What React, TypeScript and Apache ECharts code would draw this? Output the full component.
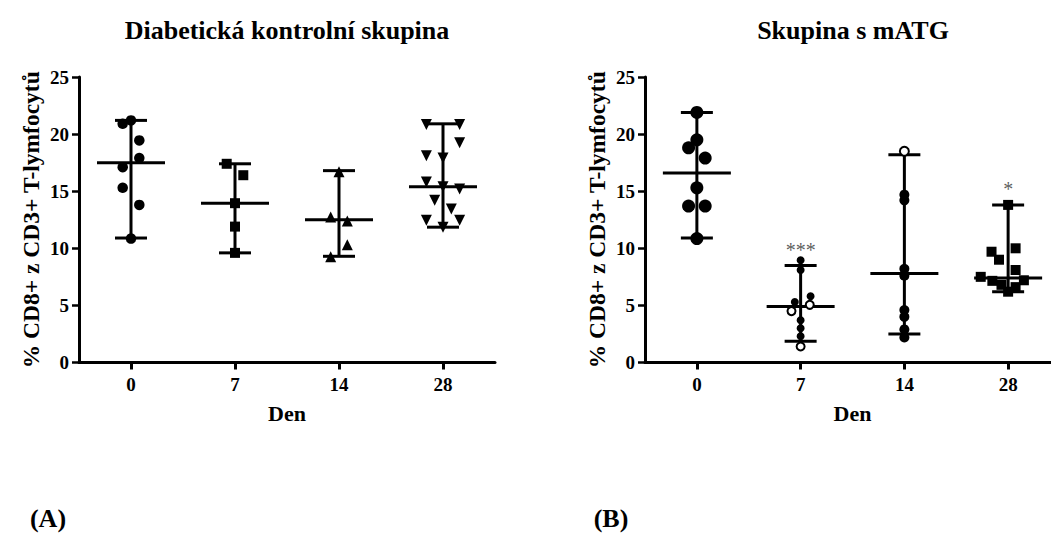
import React, { useEffect, useRef } from 'react';
import * as echarts from 'echarts';

// ---------- categories ----------
const days = ['0', '7', '14', '28'];

// ---------- Panel A: Diabetická kontrolní skupina ----------
const ctrlDay0 = [21.2, 20.9, 19.45, 17.9, 17.1, 15.3, 13.8, 10.85];
const ctrlDay0Lane = [0, -1, 1, 1, -1, -1, 1, 0];
const ctrlDay7 = [17.4, 16.4, 13.95, 11.9, 9.6];
const ctrlDay7Lane = [-1, 1, 0, 0, 0];
const ctrlDay14 = [16.7, 12.75, 12.4, 10.3, 9.25];
const ctrlDay14Lane = [0, -1, 1, 1, -1];
const ctrlDay28 = [20.85, 20.85, 19.25, 18.1, 17.9, 15.8, 15.4, 15.2, 14.2, 13.45, 12.45, 12.45, 11.85];
const ctrlDay28Lane = [-2, 2, 2, -2, 0, -2, 0, 2, -1, 1, -2, 2, 0];
const ctrlMedian = [17.5, 13.95, 12.5, 15.4];
const ctrlLow = [10.9, 9.6, 9.3, 11.85];
const ctrlHigh = [21.2, 17.4, 16.8, 20.9];

// ---------- Panel B: Skupina s mATG ----------
const atgDay0 = [21.9, 19.5, 18.8, 17.9, 15.3, 13.7, 13.7, 10.85];
const atgDay0Lane = [0, 0, -1, 1, 0, -1, 1, 0];
const atgDay7 = [8.95, 8.1, 5.8, 5.3, 3.7, 3.0, 2.3];
const atgDay7Lane = [0, 0, 1.2, -0.7, 0, 0, 0];
const atgDay7Open = [5.05, 4.5, 1.4];
const atgDay7OpenLane = [1.1, -1.1, 0];
const atgDay14 = [14.7, 14.2, 8.2, 7.6, 4.6, 4.0, 2.9, 2.2];
const atgDay14Open = [18.5];
const atgDay28 = [13.8, 10.0, 9.7, 9.0, 8.1, 7.5, 7.15, 7.2, 6.8, 6.6, 6.2];
const atgDay28Lane = [0, 0.9, -2, -1.1, 0.9, -3.3, -1.9, 1.9, -0.8, 0.9, 0];
const atgMedian = [16.6, 4.9, 7.8, 7.4];
const atgLow = [10.9, 1.85, 2.5, 6.2];
const atgHigh = [21.9, 8.5, 18.2, 13.8];
const atgSignif = ['', '***', '', '*'];

// ---------- texts ----------
const titleA = 'Diabetická kontrolní skupina';
const titleB = 'Skupina s mATG';
const yName = '% CD8+ z CD3+ T-lymfocytů';
const xName = 'Den';

const FONT = '"Liberation Serif", "Times New Roman", serif';
const LANE_PX = 8.3;
const CAP = 16;
const MED = 34;

function pts(day: number, vals: number[], lanes?: number[]) {
  return vals.map((v, i) => ({
    value: [day, v],
    symbolOffset: [((lanes && lanes[i]) || 0) * LANE_PX, 0],
  }));
}

const errRender = (_params: any, api: any) => {
  const x = api.value(0);
  const c = api.coord([x, api.value(1)]);
  const lo = api.coord([x, api.value(2)]);
  const hi = api.coord([x, api.value(3)]);
  const st = { stroke: '#000', lineWidth: 3, fill: null };
  const line = (x1: number, y1: number, x2: number, y2: number) => ({
    type: 'line',
    shape: { x1, y1, x2, y2 },
    style: st,
  });
  return {
    type: 'group',
    children: [
      line(lo[0], lo[1], hi[0], hi[1]),
      line(lo[0] - CAP, lo[1], lo[0] + CAP, lo[1]),
      line(hi[0] - CAP, hi[1], hi[0] + CAP, hi[1]),
      line(c[0] - MED, c[1], c[0] + MED, c[1]),
    ],
  };
};

const boldText = (size: number) => ({
  color: '#000',
  fontFamily: FONT,
  fontWeight: 'bold' as const,
  fontSize: size,
});

const mkX = (gridIndex: number) => ({
  type: 'category',
  gridIndex,
  data: days,
  boundaryGap: true,
  axisLine: { show: true, lineStyle: { color: '#000', width: 3 } },
  axisTick: { show: true, alignWithLabel: true, length: 7, lineStyle: { color: '#000', width: 3 } },
  axisLabel: { ...boldText(19), margin: 12 },
  splitLine: { show: false },
  name: xName,
  nameLocation: 'middle',
  nameGap: 40,
  nameTextStyle: boldText(22),
});

const mkY = (gridIndex: number) => ({
  type: 'value',
  gridIndex,
  min: 0,
  max: 25,
  interval: 5,
  axisLine: { show: true, lineStyle: { color: '#000', width: 3 } },
  axisTick: { show: true, length: 7, lineStyle: { color: '#000', width: 2.5 } },
  axisLabel: { ...boldText(19), margin: 10 },
  splitLine: { show: false },
  name: yName,
  nameLocation: 'middle',
  nameGap: 36,
  nameRotate: 90,
  nameTextStyle: boldText(23.5),
});

const scatter = (idx: number, data: any[], symbol: string, size: number, extra: any = {}) => ({
  type: 'scatter',
  xAxisIndex: idx,
  yAxisIndex: idx,
  data,
  symbol,
  symbolSize: size,
  itemStyle: { color: '#000', opacity: 1 },
  z: 3,
  ...extra,
});

const errSeries = (idx: number, med: number[], lo: number[], hi: number[]) => ({
  type: 'custom',
  xAxisIndex: idx,
  yAxisIndex: idx,
  renderItem: errRender,
  data: days.map((_d, i) => [i, med[i], lo[i], hi[i]]),
  z: 2,
});

export default function App() {
  const ref = useRef<HTMLDivElement>(null);
  useEffect(() => {
    if (!ref.current) return;
    const chart = echarts.init(ref.current, null, { renderer: 'svg' });
    const openStyle = { color: '#fff', borderColor: '#000', borderWidth: 2, opacity: 1 };
    chart.setOption({
      animation: false,
      backgroundColor: '#fff',
      grid: [
        { left: 79, top: 77, width: 416, height: 285.5, outerBoundsMode: 'none', containLabel: false },
        { left: 645, top: 77, width: 415, height: 285.5, outerBoundsMode: 'none', containLabel: false },
      ],
      xAxis: [mkX(0), mkX(1)],
      yAxis: [mkY(0), mkY(1)],
      graphic: [
        { type: 'text', x: 287, y: 30, style: { text: titleA, font: `bold 26px ${FONT}`, fill: '#000', textAlign: 'center', textVerticalAlign: 'middle' } },
        { type: 'text', x: 853, y: 30, style: { text: titleB, font: `bold 26px ${FONT}`, fill: '#000', textAlign: 'center', textVerticalAlign: 'middle' } },
        { type: 'text', x: 48, y: 518, style: { text: '(A)', font: `bold 26px ${FONT}`, fill: '#000', textAlign: 'center', textVerticalAlign: 'middle' } },
        { type: 'text', x: 611, y: 518, style: { text: '(B)', font: `bold 26px ${FONT}`, fill: '#000', textAlign: 'center', textVerticalAlign: 'middle' } },
      ],
      series: [
        errSeries(0, ctrlMedian, ctrlLow, ctrlHigh),
        scatter(0, pts(0, ctrlDay0, ctrlDay0Lane), 'circle', 10.5),
        scatter(0, pts(1, ctrlDay7, ctrlDay7Lane), 'rect', 10),
        scatter(0, pts(2, ctrlDay14, ctrlDay14Lane), 'triangle', 11),
        scatter(0, pts(3, ctrlDay28, ctrlDay28Lane), 'triangle', 11, { symbolRotate: 180 }),

        errSeries(1, atgMedian, atgLow, atgHigh),
        scatter(1, pts(0, atgDay0, atgDay0Lane), 'circle', 13),
        scatter(1, pts(1, atgDay7, atgDay7Lane), 'circle', 8),
        scatter(1, pts(1, atgDay7Open, atgDay7OpenLane), 'circle', 8, { itemStyle: openStyle }),
        scatter(1, pts(2, atgDay14), 'circle', 10),
        scatter(1, pts(2, atgDay14Open), 'circle', 9, { itemStyle: openStyle }),
        scatter(1, pts(3, atgDay28, atgDay28Lane), 'rect', 10),
        {
          type: 'scatter',
          xAxisIndex: 1,
          yAxisIndex: 1,
          symbol: 'circle',
          symbolSize: 1,
          itemStyle: { color: 'rgba(0,0,0,0)' },
          data: atgSignif
            .map((s, i) => ({ value: [i, atgHigh[i]], name: s }))
            .filter((d) => d.name !== ''),
          label: {
            show: true,
            position: 'top',
            distance: 5,
            formatter: (p: any) => p.name,
            color: '#333',
            fontFamily: FONT,
            fontSize: 20,
          },
          z: 4,
        },
      ],
    });
    return () => chart.dispose();
  }, []);
  return (
    <div
      ref={ref}
      style={{ position: 'fixed', left: 0, top: 0, width: 1051, height: 534, background: '#fff' }}
    />
  );
}
